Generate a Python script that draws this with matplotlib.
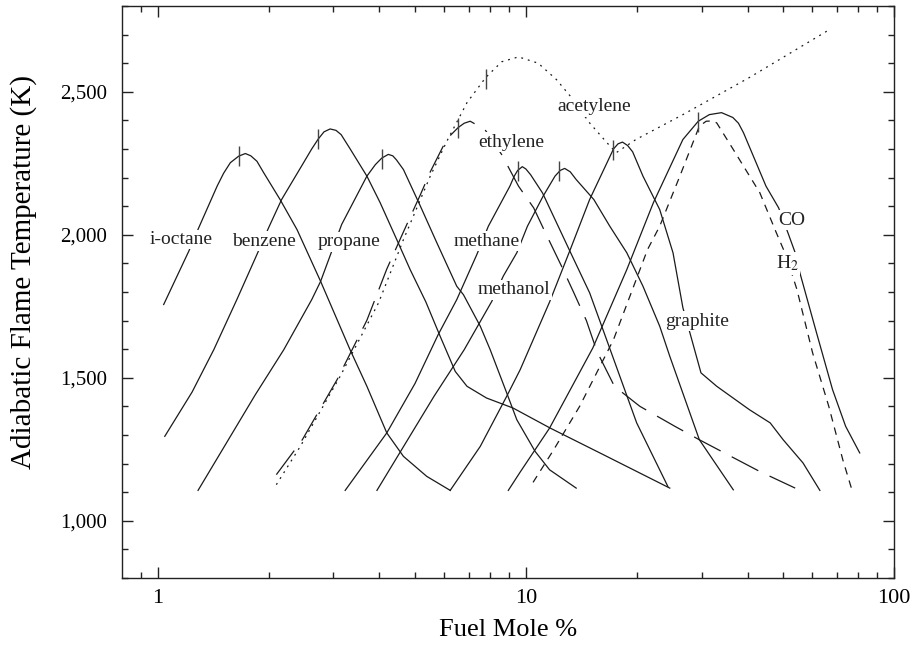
import matplotlib
matplotlib.use("Agg")
import matplotlib.pyplot as plt
from matplotlib.ticker import FixedLocator, NullFormatter

plt.rcParams['font.family'] = ['Liberation Serif', 'DejaVu Serif']
plt.rcParams['mathtext.fontset'] = 'stix'

# 曲线数据 (燃料摩尔分数 %, 绝热火焰温度 K)
ioctane_x = [1.038, 1.214, 1.292, 1.45, 1.51, 1.575, 1.66, 1.73, 1.79, 1.86, 1.94, 2.15, 2.39, 2.77, 3.33, 3.70, 4.19, 4.65, 5.38, 6.23]
ioctane_t = [1756, 1942, 2024, 2170, 2215, 2252, 2275, 2284, 2276, 2257, 2217, 2123, 2018, 1837, 1598, 1470, 1307, 1225, 1155, 1106]

benzene_x = [1.045, 1.24, 1.42, 1.64, 1.86, 2.0, 2.17, 2.49, 2.62, 2.73, 2.83, 2.94, 3.05, 3.15, 3.34, 3.70, 4.02, 4.46, 4.85, 5.35, 5.85, 6.43, 6.92, 7.82, 9.23, 11.64, 16.0, 24.6]
benzene_t = [1295, 1450, 1598, 1773, 1931, 2024, 2123, 2252, 2300, 2335, 2360, 2370, 2365, 2350, 2298, 2205, 2112, 1983, 1878, 1765, 1645, 1522, 1470, 1429, 1394, 1324, 1235, 1114]

propane_x = [1.287, 1.84, 2.2, 2.62, 2.77, 3.16, 3.70, 3.9, 4.06, 4.23, 4.35, 4.45, 4.65, 5.17, 5.73, 6.49, 6.77, 7.52, 8.0, 8.87, 9.45, 10.6, 11.6, 13.7]
propane_t = [1106, 1440, 1598, 1773, 1837, 2036, 2205, 2245, 2268, 2281, 2276, 2262, 2228, 2100, 1972, 1820, 1790, 1680, 1598, 1447, 1353, 1242, 1178, 1114]

methane_x = [3.23, 4.19, 5.0, 5.78, 6.49, 7.36, 7.91, 9.05, 9.3, 9.5, 9.78, 10.0, 10.3, 11.1, 13.2, 14.9, 16.2, 20.0, 24.3]
methane_t = [1106, 1307, 1480, 1651, 1773, 1931, 2030, 2170, 2205, 2225, 2238, 2230, 2210, 2146, 1940, 1797, 1668, 1342, 1120]

methanol_x = [3.94, 5.63, 6.8, 8.08, 8.68, 9.45, 10.1, 11.14, 12.0, 12.4, 12.75, 13.2, 13.7, 15.3, 16.9, 18.8, 20.8, 23.1, 24.6, 29.6, 36.6]
methanol_t = [1106, 1435, 1598, 1767, 1855, 1937, 2030, 2135, 2205, 2225, 2232, 2220, 2193, 2123, 2030, 1937, 1820, 1680, 1575, 1283, 1108]

graphite_x = [6.23, 7.52, 8.87, 9.65, 11.6, 13.2, 14.9, 17.3, 17.8, 18.3, 18.9, 19.5, 20.8, 23.1, 25.1, 26.7, 27.9, 29.9, 33.0, 40.5, 46.1, 50.0, 56.6, 62.9]
graphite_t = [1106, 1260, 1435, 1528, 1765, 1948, 2123, 2300, 2318, 2324, 2312, 2290, 2205, 2088, 1937, 1745, 1657, 1517, 1470, 1388, 1342, 1283, 1202, 1106]

co_x = [8.96, 9.65, 11.6, 15.2, 18.8, 22.2, 26.7, 29.4, 31.5, 34.0, 36.5, 37.8, 39.0, 44.9, 48.6, 51.5, 53.9, 55.5, 61.6, 68.1, 73.9, 80.7]
co_t = [1106, 1170, 1324, 1604, 1878, 2112, 2333, 2397, 2420, 2427, 2410, 2390, 2357, 2170, 2094, 2007, 1937, 1867, 1657, 1458, 1330, 1237]

h2_x = [10.46, 11.9, 14.0, 17.3, 21.4, 23.1, 26.2, 29.6, 30.9, 32.2, 33.0, 36.6, 43.2, 47.9, 51.0, 54.5, 60.1, 66.5, 72.6, 76.6]
h2_t = [1134, 1248, 1400, 1633, 1948, 2030, 2205, 2380, 2397, 2398, 2391, 2298, 2147, 2007, 1925, 1808, 1587, 1400, 1213, 1114]

acetylene_x = [2.1, 2.44, 3.13, 3.98, 4.65, 5.5, 6.1, 6.92, 7.78, 8.6, 9.55, 10.8, 12.1, 13.2, 14.9, 16.6, 17.6, 19.9, 26.7, 40.5, 67.3]
acetylene_t = [1126, 1260, 1505, 1762, 1983, 2205, 2327, 2462, 2550, 2605, 2622, 2600, 2543, 2485, 2391, 2322, 2287, 2333, 2420, 2550, 2720]

ethylene_x = [2.1, 2.47, 3.07, 3.70, 4.19, 4.65, 5.17, 5.5, 6.1, 6.55, 6.8, 7.06, 7.74, 8.6, 9.55, 10.5, 11.3, 12.5, 13.5, 14.6, 15.6, 17.4, 20.4, 25.4, 29.6, 36.8, 43.2, 53.9]
ethylene_t = [1161, 1283, 1493, 1701, 1880, 2010, 2140, 2220, 2335, 2375, 2390, 2397, 2368, 2280, 2170, 2094, 2007, 1890, 1797, 1700, 1592, 1470, 1400, 1330, 1283, 1219, 1172, 1114]

# 化学计量点标记
stoich_x = [1.66, 2.73, 4.06, 6.55, 7.78, 9.5, 12.3, 17.3, 29.4]
stoich_t = [2275, 2335, 2265, 2375, 2545, 2222, 2222, 2295, 2395]

# 标签
label_text = ["i-octane", "benzene", "propane", "methane", "methanol", "ethylene", "acetylene", "graphite", "CO", "H$_2$"]
label_x = [1.156, 1.943, 3.30, 7.83, 9.29, 9.1, 15.3, 29.1, 52.7, 51.4]
label_t = [1983, 1978, 1975, 1978, 1808, 2324, 2447, 1698, 2051, 1899]

y_ticks = [1000, 1500, 2000, 2500]
y_ticklabels = ["1,000", "1,500", "2,000", "2,500"]

fig = plt.figure(figsize=(9.19, 6.65), dpi=100)
ax = fig.add_axes([0.1328, 0.131, 0.84, 0.86])

c = '#1a1a1a'
lw = 0.9
for xs, ts in [(ioctane_x, ioctane_t), (benzene_x, benzene_t), (propane_x, propane_t),
               (methane_x, methane_t), (methanol_x, methanol_t), (graphite_x, graphite_t),
               (co_x, co_t)]:
    ax.plot(xs, ts, color=c, lw=lw, zorder=2)
ax.plot(h2_x, h2_t, color=c, lw=lw, linestyle=(0, (6, 5)), zorder=2)
ax.plot(acetylene_x, acetylene_t, color=c, lw=lw, linestyle=(0, (1.5, 4)), zorder=2)
ax.plot(ethylene_x, ethylene_t, color=c, lw=lw, linestyle=(0, (24, 10)), zorder=2)

ax.vlines(stoich_x, [t - 35 for t in stoich_t], [t + 35 for t in stoich_t], color='#444444', lw=1.0, zorder=2)

for s, lx, lt in zip(label_text, label_x, label_t):
    ax.text(lx, lt, s, ha='center', va='center', fontsize=14, color='#222222', zorder=3,
            bbox=dict(facecolor='white', edgecolor='none', pad=1.0))

ax.set_xscale('log')
ax.set_xlim(0.8, 100)
ax.set_ylim(800, 2800)

ax.xaxis.set_major_locator(FixedLocator([1, 10, 100]))
ax.xaxis.set_minor_locator(FixedLocator([0.9] + [i for i in range(2, 10)] + [i * 10 for i in range(2, 10)]))
ax.set_xticklabels(["1", "10", "100"])
ax.xaxis.set_minor_formatter(NullFormatter())
ax.yaxis.set_major_locator(FixedLocator(y_ticks))
ax.set_yticklabels(y_ticklabels)
ax.yaxis.set_minor_locator(FixedLocator([t for t in range(800, 2801, 100) if t not in y_ticks]))

ax.tick_params(which='both', direction='in', top=True, right=True, width=1.0, color='#222222')
ax.tick_params(which='major', length=8)
ax.tick_params(which='minor', length=4.5)
ax.tick_params(axis='x', which='major', labelsize=16, pad=8)
ax.tick_params(axis='y', which='major', labelsize=15, pad=11)
for sp in ax.spines.values():
    sp.set_linewidth(1.0)
    sp.set_color('#222222')

ax.set_xlabel("Fuel Mole %", fontsize=19, labelpad=8)
ax.set_ylabel("Adiabatic Flame Temperature (K)", fontsize=21)
ax.yaxis.set_label_coords(-0.11, 0.535)

plt.savefig("out.png", dpi=100)
